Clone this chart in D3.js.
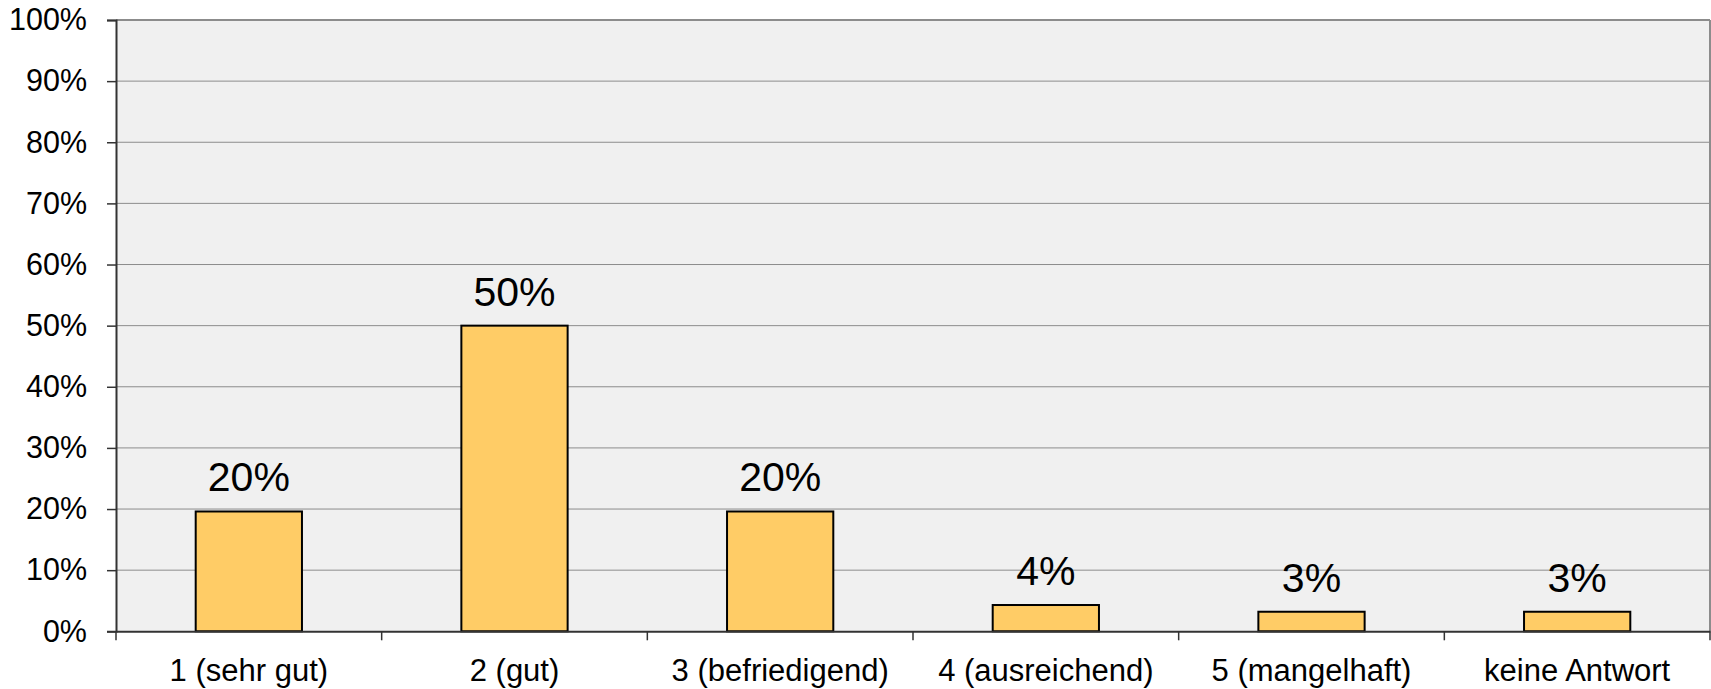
<!DOCTYPE html>
<html>
<head>
<meta charset="utf-8">
<script src="https://cdn.jsdelivr.net/npm/d3@7"></script>
<style>
html,body{margin:0;padding:0;background:#fff;}
svg{display:block;font-family:Arial,"Liberation Sans",sans-serif;}
</style>
</head>
<body>
<svg id="chart" width="1711" height="689"></svg>
<script>
const categories = ["1 (sehr gut)", "2 (gut)", "3 (befriedigend)", "4 (ausreichend)", "5 (mangelhaft)", "keine Antwort"];
const values = [19.6, 50.0, 19.6, 4.3, 3.2, 3.2];
const labels = ["20%", "50%", "20%", "4%", "3%", "3%"];
const yTicks = [0, 10, 20, 30, 40, 50, 60, 70, 80, 90, 100];

(function () {
const svg = d3.select("#chart");
const pLeft = 116, pRight = 1710, pTop = 20, pBottom = 631.3;

const x = d3.scaleBand().domain(categories).range([pLeft, pRight]).paddingInner(0).paddingOuter(0);
const y = d3.scaleLinear().domain([0, 100]).range([pBottom, pTop]);

// plot background
svg.append("rect").attr("x", pLeft).attr("y", pTop).attr("width", pRight - pLeft).attr("height", pBottom - pTop)
  .attr("fill", "#f0f0f0");

// gridlines
svg.append("g").selectAll("line").data(yTicks.filter(d => d > 0 && d < 100)).join("line")
  .attr("x1", pLeft).attr("x2", pRight)
  .attr("y1", d => y(d)).attr("y2", d => y(d))
  .attr("stroke", "#8c8c8c").attr("stroke-width", 1);

// top and right border
svg.append("line").attr("x1", pLeft).attr("x2", pRight).attr("y1", y(100)).attr("y2", y(100))
  .attr("stroke", "#8c8c8c").attr("stroke-width", 2);
svg.append("line").attr("x1", pRight).attr("x2", pRight).attr("y1", pTop).attr("y2", pBottom)
  .attr("stroke", "#8c8c8c").attr("stroke-width", 2);

// bars
const bw = x.bandwidth() * 0.4;
svg.append("g").selectAll("rect").data(categories).join("rect")
  .attr("x", (d) => x(d) + x.bandwidth() / 2 - bw / 2)
  .attr("y", (d, i) => y(values[i]))
  .attr("width", bw)
  .attr("height", (d, i) => y(0) - y(values[i]))
  .attr("fill", "#ffcc66").attr("stroke", "#000").attr("stroke-width", 2);

// data labels
svg.append("g").selectAll("text").data(categories).join("text")
  .attr("x", d => x(d) + x.bandwidth() / 2)
  .attr("y", (d, i) => y(values[i]) - 20)
  .attr("text-anchor", "middle")
  .attr("font-size", 41)
  .attr("fill", "#000")
  .text((d, i) => labels[i]);

// y axis
const yAxis = d3.axisLeft(y).tickValues(yTicks).tickFormat(d => d + "%").tickSize(9).tickPadding(20);
const gy = svg.append("g").attr("transform", `translate(${pLeft},0)`).call(yAxis);
gy.select(".domain").attr("stroke", "#333").attr("stroke-width", 2);
gy.selectAll(".tick line").attr("stroke", "#333").attr("stroke-width", 1.5);
gy.selectAll(".tick text").attr("font-size", 30.5).attr("fill", "#000")
  .attr("font-family", "Arial, 'Liberation Sans', sans-serif");

// x axis
const xAxis = d3.axisBottom(x).tickSize(0).tickPadding(0);
const gx = svg.append("g").attr("transform", `translate(0,${pBottom})`).call(xAxis);
gx.select(".domain").attr("stroke", "#333").attr("stroke-width", 2);
gx.selectAll(".tick text").attr("font-size", 31).attr("fill", "#000")
  .attr("dy", 0).attr("y", 49.5)
  .attr("font-family", "Arial, 'Liberation Sans', sans-serif");

// x category separator ticks
const sepData = categories.map(d => x(d)).concat([pRight]);
svg.append("g").selectAll("line").data(sepData).join("line")
  .attr("x1", d => d).attr("x2", d => d)
  .attr("y1", pBottom).attr("y2", pBottom + 9)
  .attr("stroke", "#333").attr("stroke-width", 1.5);
})();
</script>
</body>
</html>
